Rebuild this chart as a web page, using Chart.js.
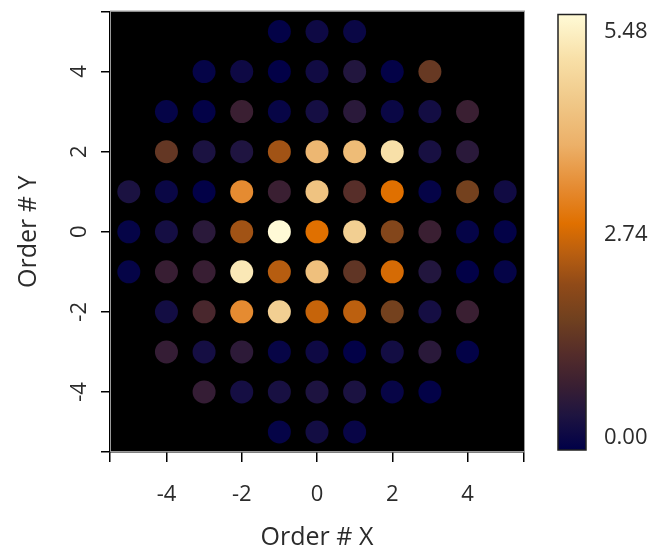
<!DOCTYPE html>
<html>
<head>
<meta charset="utf-8">
<script src="https://cdn.jsdelivr.net/npm/chart.js@4.4.0/dist/chart.umd.min.js"></script>
<style>
  html, body { margin: 0; padding: 0; background: #fff; }
  #wrap { width: 660px; height: 549px; }
</style>
</head>
<body>
<div id="wrap"><canvas id="orders"></canvas></div>
<script>
// grid of orders, one row per Y, values read left to right
const rowY = [5, 4, 3, 2, 1, 0, -1, -2, -3, -4, -5];
const rowFirstX = [-1, -3, -4, -4, -5, -5, -5, -4, -4, -3, -1];
const rowValues = [
  [0.05, 0.20, 0.15],
  [0.08, 0.20, 0.03, 0.25, 0.50, 0.05, 1.50],
  [0.08, 0.05, 0.82, 0.10, 0.30, 0.60, 0.15, 0.28, 0.82],
  [1.45, 0.40, 0.45, 2.25, 4.00, 4.10, 4.93, 0.35, 0.60],
  [0.40, 0.15, 0.03, 3.30, 0.82, 4.27, 1.25, 2.85, 0.08, 1.70, 0.25],
  [0.08, 0.30, 0.60, 2.25, 5.48, 2.85, 4.55, 1.90, 0.82, 0.08, 0.05],
  [0.08, 0.80, 0.80, 5.10, 2.45, 4.20, 1.40, 2.74, 0.50, 0.03, 0.08],
  [0.28, 1.05, 3.30, 4.55, 2.60, 2.50, 1.70, 0.30, 0.82],
  [0.75, 0.30, 0.65, 0.10, 0.20, 0.03, 0.28, 0.60, 0.05],
  [0.75, 0.30, 0.35, 0.42, 0.40, 0.10, 0.05],
  [0.08, 0.28, 0.12]
];
const xTicks = [-4, -2, 0, 2, 4];
const yTicks = [-4, -2, 0, 2, 4];
const colorTicks = [0, 2.74, 5.48];

const vMax = 5.48;
const stops = [
  [0.00, '#000048'], [0.08, '#1e1440'], [0.15, '#3a1f32'], [0.22, '#542c2a'],
  [0.30, '#70401f'], [0.38, '#904a18'], [0.45, '#b85e10'], [0.52, '#e07000'],
  [0.60, '#e58a30'], [0.70, '#ecb068'], [0.80, '#f0c888'], [0.90, '#f8e0a8'],
  [1.00, '#fffad6']
];

function hexRgb(h) {
  return [parseInt(h.slice(1, 3), 16), parseInt(h.slice(3, 5), 16), parseInt(h.slice(5, 7), 16)];
}

function colorFor(v) {
  let f = Math.max(0, Math.min(1, v / vMax));
  for (let i = 1; i < stops.length; i++) {
    if (f <= stops[i][0]) {
      const a = hexRgb(stops[i - 1][1]), b = hexRgb(stops[i][1]);
      const t = (f - stops[i - 1][0]) / (stops[i][0] - stops[i - 1][0]);
      const c = a.map((x, k) => Math.round(x + (b[k] - x) * t));
      return 'rgb(' + c.join(',') + ')';
    }
  }
  return stops[stops.length - 1][1];
}

let points = [];
let pointColors = [];
rowY.forEach(function(y, r) {
  rowValues[r].forEach(function(v, i) {
    points.push({x: rowFirstX[r] + i, y: y, v: v});
    pointColors.push(colorFor(v));
  });
});

const font = {family: "'Open Sans', sans-serif", size: 22};
const titleFont = {family: "'Open Sans', sans-serif", size: 25, lineHeight: 1};
const textColor = '#2b2b2b';

const plotBg = {
  id: 'plotBg',
  beforeDatasetsDraw(chart) {
    const {ctx, chartArea: a} = chart;
    ctx.save();
    ctx.fillStyle = '#000';
    ctx.fillRect(a.left, a.top, a.right - a.left, a.bottom - a.top);
    ctx.strokeStyle = '#9a9a9a';
    ctx.lineWidth = 1;
    ctx.strokeRect(a.left + 0.5, a.top - 0.5, a.right - a.left, a.bottom - a.top);
    ctx.restore();
  }
};

// colour bar drawn along the extra 'c' scale
const colorBar = {
  id: 'colorBar',
  afterDraw(chart) {
    const {ctx, chartArea: a} = chart;
    const s = chart.scales.c;
    const x0 = s.left + 34, w = 28;
    const top = a.top + 3, bottom = a.bottom - 2;
    const g = ctx.createLinearGradient(0, bottom, 0, top);
    stops.forEach(function(st) { g.addColorStop(st[0], st[1]); });
    ctx.save();
    ctx.fillStyle = g;
    ctx.fillRect(x0, top, w, bottom - top);
    ctx.strokeStyle = '#222';
    ctx.lineWidth = 1.5;
    ctx.strokeRect(x0, top, w, bottom - top);
    ctx.restore();
  }
};

function edgeTicks(list) {
  return function(axis) {
    axis.ticks = [axis.min].concat(list, [axis.max]).map(function(v) { return {value: v}; });
  };
}

function noPad(s) {
  s.paddingTop = 0; s.paddingBottom = 0; s.paddingLeft = 0; s.paddingRight = 0;
}

new Chart(document.getElementById('orders'), {
  type: 'scatter',
  data: {
    datasets: [{
      data: points,
      backgroundColor: pointColors,
      borderWidth: 0,
      pointRadius: 11.5,
      pointHoverRadius: 11.5,
    }]
  },
  options: {
    responsive: true,
    maintainAspectRatio: false,
    animation: false,
    events: [],
    layout: {padding: {top: 10, left: 0, right: 0, bottom: 0}},
    plugins: {legend: {display: false}, tooltip: {enabled: false}},
    scales: {
      x: {
        type: 'linear',
        min: -5.5,
        max: 5.5,
        afterBuildTicks: edgeTicks(xTicks),
        afterFit(s) { s.height = 97; noPad(s); },
        grid: {drawOnChartArea: false, tickLength: 10, color: '#000', lineWidth: 1.5},
        border: {color: '#000', width: 1.5},
        ticks: {
          font: font, color: textColor, padding: 20, maxRotation: 0, autoSkip: false,
          callback: function(v) { return xTicks.includes(v) ? String(v) : ''; }
        },
        title: {display: true, text: 'Order # X', font: titleFont, color: textColor, padding: {top: 0, bottom: -1}}
      },
      y: {
        type: 'linear',
        min: -5.5,
        max: 5.5,
        afterBuildTicks: edgeTicks(yTicks),
        afterFit(s) { s.width = 110; noPad(s); },
        grid: {drawOnChartArea: false, tickLength: 9, color: '#000', lineWidth: 1.5},
        border: {color: '#000', width: 1.5},
        ticks: {
          font: font, color: textColor, padding: 11, minRotation: 90, maxRotation: 90,
          crossAlign: 'center', autoSkip: false,
          callback: function(v) { return yTicks.includes(v) ? String(v) : ''; }
        },
        title: {display: true, text: 'Order # Y', font: titleFont, color: textColor, padding: {top: 16, bottom: 0}}
      },
      c: {
        type: 'linear',
        axis: 'y',
        position: 'right',
        min: -0.19,
        max: 5.75,
        afterBuildTicks(axis) { axis.ticks = colorTicks.map(function(v) { return {value: v}; }); },
        afterFit(s) { s.width = 136; noPad(s); },
        grid: {display: false},
        border: {display: false},
        ticks: {
          font: font, color: textColor, padding: 72,
          callback: function(v) { return v.toFixed(2); }
        }
      }
    }
  },
  plugins: [plotBg, colorBar]
});
</script>
</body>
</html>
